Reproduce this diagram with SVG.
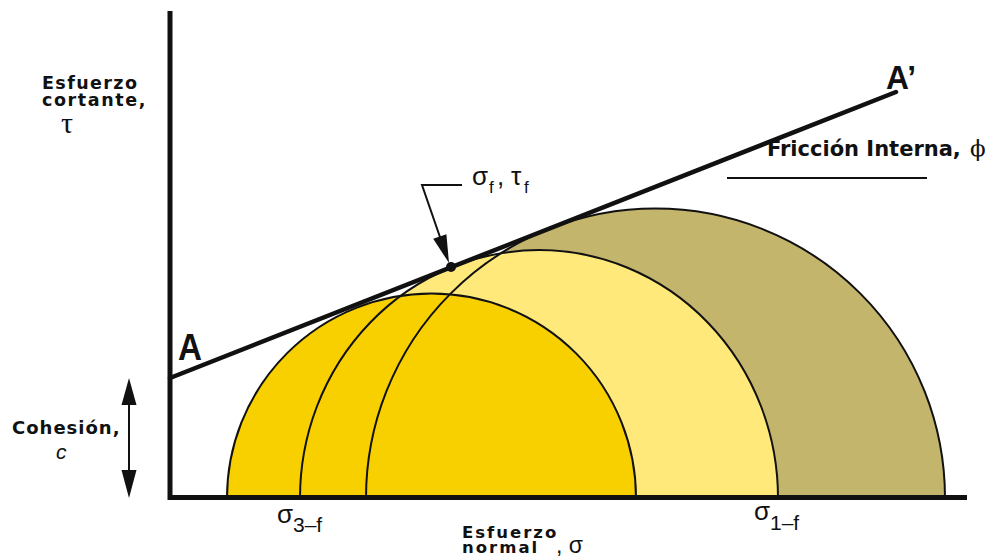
<svg xmlns="http://www.w3.org/2000/svg" width="985" height="558" viewBox="0 0 985 558">
<style>
.lbl{font-family:"DejaVu Sans","Liberation Sans",sans-serif;font-weight:bold;fill:#111;}
.sym{font-family:"Liberation Sans","DejaVu Sans",sans-serif;fill:#111;}
.ser{font-family:"Liberation Serif","DejaVu Serif",serif;fill:#111;}
.big{font-family:"Liberation Sans",Arial,sans-serif;font-weight:bold;fill:#111;}
.arc{fill:none;stroke:#111;stroke-width:2;}
.thin{stroke:#111;stroke-width:2;fill:none;}
</style>
<rect width="985" height="558" fill="#fff"/>

<g id="circle-large">
  <path d="M366,498 A289.5,289.5 0 0 1 945,498 Z" fill="#C4B56C"/>
</g>
<g id="circle-medium">
  <path d="M300,498 A239,248 0 0 1 778,498 Z" fill="#FEE97A"/>
</g>
<g id="circle-small">
  <path d="M227,498 A204.5,204.5 0 0 1 636,498 Z" fill="#F8D000"/>
</g>
<g id="circle-outlines">
  <path class="arc" d="M366,498 A289.5,289.5 0 0 1 945,498"/>
  <path class="arc" d="M300,498 A239,248 0 0 1 778,498"/>
  <path class="arc" d="M227,498 A204.5,204.5 0 0 1 636,498"/>
</g>

<g id="axes">
  <line x1="170" y1="11" x2="170" y2="500" stroke="#111" stroke-width="5"/>
  <line x1="168" y1="497.5" x2="967" y2="497.5" stroke="#111" stroke-width="5"/>
</g>

<g id="connectors">
  <line id="envelope" x1="170" y1="378" x2="896" y2="92" stroke="#111" stroke-width="4.5" stroke-linecap="round"/>
  <g id="cohesion-arrow">
    <line class="thin" x1="129" y1="400" x2="129" y2="476"/>
    <polygon points="129,378 121.5,405 136.5,405" fill="#111"/>
    <polygon points="129,498 121.5,470 136.5,470" fill="#111"/>
  </g>
  <g id="leader-arrow">
    <polyline class="thin" points="462,185 422,185 441,240"/>
    <polygon points="449,263 446.4,234.2 433.2,238.8" fill="#111"/>
  </g>
  <line id="friction-underline" x1="727" y1="178" x2="927" y2="178" stroke="#111" stroke-width="2.2"/>
</g>

<g id="failure-point">
  <circle cx="451" cy="267" r="5" fill="#111"/>
</g>

<g id="label-tau-axis">
  <text class="lbl" x="42" y="89" font-size="17.5" letter-spacing="1.4">Esfuerzo</text>
  <text class="lbl" x="42" y="106" font-size="17.5" letter-spacing="1.6">cortante,</text>
  <text class="ser" x="61" y="133" font-size="30">τ</text>
</g>

<g id="label-cohesion">
  <text class="lbl" x="12" y="434" font-size="18" letter-spacing="1">Cohesión,</text>
  <text class="sym" x="56" y="459" font-size="21" font-style="italic">c</text>
</g>

<g id="label-A">
  <text class="big" x="178" y="360" font-size="37" textLength="24" lengthAdjust="spacingAndGlyphs">A</text>
</g>
<g id="label-A-prime">
  <text class="big" x="886" y="89" font-size="33" textLength="30" lengthAdjust="spacingAndGlyphs">A’</text>
</g>

<g id="label-friction">
  <text class="lbl" x="767" y="156" font-size="21">Fricción Interna,</text>
  <text x="970" y="156" font-size="23" font-family="DejaVu Serif, serif" fill="#111">ϕ</text>
</g>

<g id="label-failure">
  <text class="sym" x="472" y="185" font-size="26">σ</text>
  <text class="sym" x="489" y="193" font-size="17">f</text>
  <text class="sym" x="497" y="185" font-size="26">,</text>
  <text class="sym" x="511" y="185" font-size="26">τ</text>
  <text class="sym" x="524" y="193" font-size="17">f</text>
</g>

<g id="label-sigma3">
  <text class="sym" x="277" y="523" font-size="26">σ</text>
  <text class="sym" x="293" y="532" font-size="21">3–f</text>
</g>
<g id="label-sigma1">
  <text class="sym" x="754" y="520" font-size="26">σ</text>
  <text class="sym" x="770" y="530" font-size="21">1–f</text>
</g>

<g id="label-sigma-axis">
  <text class="lbl" x="462" y="538" font-size="16.5" letter-spacing="2">Esfuerzo</text>
  <text class="lbl" x="462" y="553" font-size="16.5" letter-spacing="2">normal</text>
  <text class="sym" x="556" y="553" font-size="23">, σ</text>
</g>
</svg>
